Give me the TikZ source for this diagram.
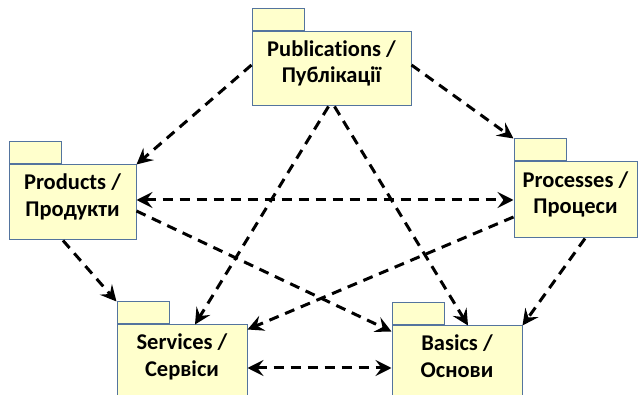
\documentclass[tikz,border=0pt]{standalone}
\usepackage{fontspec}
\setmainfont{Carlito}[Ligatures=NoCommon]
\usetikzlibrary{arrows.meta}
\definecolor{pkgfill}{RGB}{255,255,204}
\definecolor{pkgline}{RGB}{84,116,158}
\tikzset{
pkg/.style={draw=pkgline, fill=pkgfill, line width=1pt, inner sep=0pt},
pkgtab/.style={pkg, minimum width=52pt, minimum height=22pt, anchor=south west},
pkgname/.style={font=\fontsize{22.5}{26.5}\selectfont\bfseries, align=center, inner sep=0pt, text height=41pt, text depth=0pt, yshift=6.5pt},
>={Stealth[length=16pt,width=16pt,inset=6pt]},
dep/.style={->, dash pattern=on 10pt off 7pt, line width=3pt},
}

\begin{document}
\begin{tikzpicture}[x=1pt,y=-1pt]
\useasboundingbox (0,0) rectangle (638,395);
\clip (0,0) rectangle (638,395);
\node[pkg, minimum width=159pt, minimum height=74pt] (pub) at (331.5,69) {};
\node[pkgtab] (pub-tab) at (pub.north west) {};
\node[pkgname] (pub-name) at (pub.center) {Publications /\\Публікації};
\node[pkg, minimum width=127pt, minimum height=75pt] (prod) at (72.5,202.5) {};
\node[pkgtab] (prod-tab) at (prod.north west) {};
\node[pkgname] (prod-name) at (prod.center) {Products /\\Продукти};
\node[pkg, minimum width=123pt, minimum height=76pt] (proc) at (575.5,200) {};
\node[pkgtab] (proc-tab) at (proc.north west) {};
\node[pkgname] (proc-name) at (proc.center) {Processes /\\Процеси};
\node[pkg, minimum width=130pt, minimum height=75pt] (serv) at (182,362.5) {};
\node[pkgtab] (serv-tab) at (serv.north west) {};
\node[pkgname] (serv-name) at (serv.center) {Services /\\Сервіси};
\node[pkg, minimum width=130pt, minimum height=75pt] (bas) at (457,363.5) {};
\node[pkgtab] (bas-tab) at (bas.north west) {};
\node[pkgname] (bas-name) at (bas.center) {Basics /\\Основи};
\draw[dep] ([yshift=4pt]pub.west) -- (prod.north east);
\draw[dep] ([yshift=4pt]pub.east) -- (proc-tab.north west);
\draw[dep] ([xshift=-3pt]pub.south) -- ([xshift=13pt]serv.north);
\draw[dep] ([xshift=3pt]pub.south) -- ([xshift=11pt]bas.north);
\draw[dep, <->] (prod.east |- proc.west) -- (proc.west);
\draw[dep] ([xshift=-9.5pt]prod.south) -- (serv-tab.north west);
\draw[dep] ([yshift=-8.5pt]prod.east) -- ([yshift=-6pt]bas.north west);
\draw[dep] ([yshift=-17pt]proc.west) -- ([yshift=-5pt]serv.north east);
\draw[dep] ([xshift=9.5pt]proc.south) -- (bas.north east);
\draw[dep, <->] ([yshift=-5.5pt]serv.east) -- ([yshift=-5.5pt]serv.east -| bas.west);
\end{tikzpicture}
\end{document}
